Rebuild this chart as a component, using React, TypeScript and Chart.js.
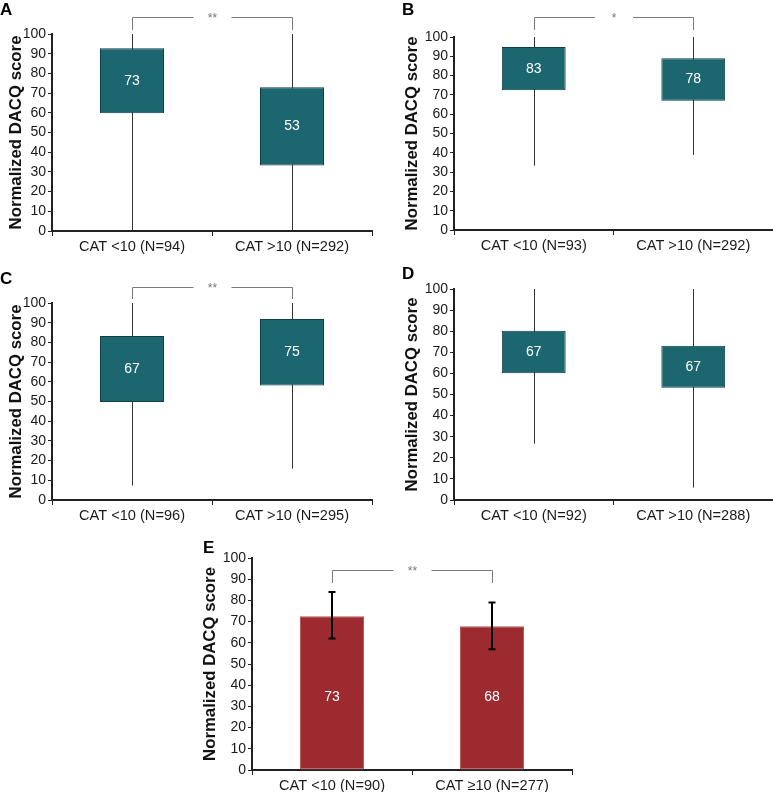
import React, { useEffect, useRef } from 'react';
import { Chart, registerables } from 'chart.js';

Chart.register(...registerables);

const FONT = "'Liberation Sans', Arial, Helvetica, sans-serif";

// ---------- Panel A ----------
const categoriesA = ['CAT <10 (N=94)', 'CAT >10 (N=292)'];
const minA = [0, 0];
const q1A = [59.8, 33.2];
const q3A = [92.8, 73.0];
const maxA = [100, 100];
const medianA = [73, 53];

// ---------- Panel B ----------
const categoriesB = ['CAT <10 (N=93)', 'CAT >10 (N=292)'];
const minB = [33.3, 38.9];
const q1B = [72.4, 67.0];
const q3B = [94.8, 89.0];
const maxB = [100, 100];
const medianB = [83, 78];

// ---------- Panel C ----------
const categoriesC = ['CAT <10 (N=96)', 'CAT >10 (N=295)'];
const minC = [7.3, 15.9];
const q1C = [49.7, 58.1];
const q3C = [83.2, 91.9];
const maxC = [100, 100];
const medianC = [67, 75];

// ---------- Panel D ----------
const categoriesD = ['CAT <10 (N=92)', 'CAT >10 (N=288)'];
const minD = [26.7, 5.9];
const q1D = [60.1, 53.2];
const q3D = [80.2, 73.1];
const maxD = [100, 100];
const medianD = [67, 67];

// ---------- Panel E ----------
const categoriesE = ['CAT <10 (N=90)', 'CAT \u226510 (N=277)'];
const meanE = [72.5, 67.8];
const errLowE = [62, 57];
const errHighE = [84, 79];
const labelE = [73, 68];

const Y_TITLE = 'Normalized DACQ score';
const TEAL = '#1c6670';
const TEAL_BORDER = '#0f3e45';
const RED = '#9c2a2f';
const RED_BORDER = '#b9575b';

type Area = { left: number; right: number; top: number; bottom: number };
type Bracket = { label: string; level: number; drop: number } | null;

type Panel = {
  left: number;
  top: number;
  width: number;
  height: number;
  area: Area;
  titlePad: number;
  bracket: Bracket;
  kind: 'box' | 'bar';
  categories: string[];
  min?: number[];
  q1?: number[];
  q3?: number[];
  max?: number[];
  median?: number[];
  mean?: number[];
  errLow?: number[];
  errHigh?: number[];
  barLabels?: number[];
  barLabelLevel?: number;
};

const panels: Panel[] = [
  {
    left: 0, top: 0, width: 386, height: 260,
    area: { left: 52, right: 372, top: 34, bottom: 231 },
    titlePad: 6.5, bracket: { label: '**', level: 108.6, drop: 102 },
    kind: 'box', categories: categoriesA, min: minA, q1: q1A, q3: q3A, max: maxA, median: medianA,
  },
  {
    left: 386, top: 0, width: 387, height: 260,
    area: { left: 68, right: 387, top: 37, bottom: 230 },
    titlePad: 16, bracket: { label: '*', level: 110.4, drop: 103.6 },
    kind: 'box', categories: categoriesB, min: minB, q1: q1B, q3: q3B, max: maxB, median: medianB,
  },
  {
    left: 0, top: 260, width: 386, height: 270,
    area: { left: 52, right: 372, top: 43, bottom: 240 },
    titlePad: 6.5, bracket: { label: '**', level: 108.1, drop: 102 },
    kind: 'box', categories: categoriesC, min: minC, q1: q1C, q3: q3C, max: maxC, median: medianC,
  },
  {
    left: 386, top: 260, width: 387, height: 270,
    area: { left: 68, right: 387, top: 29, bottom: 240 },
    titlePad: 16, bracket: null,
    kind: 'box', categories: categoriesD, min: minD, q1: q1D, q3: q3D, max: maxD, median: medianD,
  },
  {
    left: 190, top: 530, width: 400, height: 262,
    area: { left: 62, right: 382, top: 28, bottom: 240 },
    titlePad: 10, bracket: { label: '**', level: 94.3, drop: 88.2 },
    kind: 'bar', categories: categoriesE, mean: meanE, errLow: errLowE, errHigh: errHighE,
    barLabels: labelE, barLabelLevel: 34.4,
  },
];

const letters = [
  { text: 'A', left: 0, top: 1 },
  { text: 'B', left: 402, top: 1 },
  { text: 'C', left: 0, top: 270 },
  { text: 'D', left: 402, top: 265 },
  { text: 'E', left: 203, top: 539 },
];

function buildConfig(p: Panel): any {
  const datasets: any[] = [];
  if (p.kind === 'box') {
    datasets.push({
      label: 'IQR',
      data: p.q1!.map((v, i) => [v, p.q3![i]]),
      backgroundColor: TEAL,
      borderColor: TEAL_BORDER,
      borderWidth: 1,
      borderSkipped: false,
      barPercentage: 0.4,
      categoryPercentage: 1,
      grouped: false,
      order: 0,
    });
  } else {
    datasets.push({
      label: 'Mean',
      data: p.mean!,
      backgroundColor: RED,
      borderColor: RED_BORDER,
      borderWidth: 1,
      borderSkipped: false,
      barPercentage: 0.4,
      categoryPercentage: 1,
      order: 0,
    });
  }

  const whiskers = {
    id: 'whiskers',
    beforeDatasetsDraw(chart: any) {
      if (p.kind !== 'box') return;
      const ctx = chart.ctx;
      const xs = chart.scales.x;
      const ys = chart.scales.y;
      ctx.save();
      ctx.strokeStyle = '#333333';
      ctx.lineWidth = 1;
      p.min!.forEach((mn, i) => {
        const x = Math.round(xs.getPixelForValue(i)) + 0.5;
        ctx.beginPath();
        ctx.moveTo(x, ys.getPixelForValue(mn));
        ctx.lineTo(x, ys.getPixelForValue(p.max![i]));
        ctx.stroke();
      });
      ctx.restore();
    },
  };

  const annotate = {
    id: 'annotate',
    afterDatasetsDraw(chart: any) {
      const ctx = chart.ctx;
      const xs = chart.scales.x;
      const ys = chart.scales.y;
      ctx.save();
      if (p.kind === 'box') {
        ctx.fillStyle = '#ffffff';
        ctx.font = `14px ${FONT}`;
        ctx.textAlign = 'center';
        ctx.textBaseline = 'middle';
        p.median!.forEach((m, i) => {
          const x = xs.getPixelForValue(i);
          const y = ys.getPixelForValue((p.q1![i] + p.q3![i]) / 2);
          ctx.fillText(String(m), x, y);
        });
      } else {
        ctx.strokeStyle = '#000000';
        ctx.lineWidth = 2;
        p.mean!.forEach((_, i) => {
          const x = Math.round(xs.getPixelForValue(i));
          const yl = ys.getPixelForValue(p.errLow![i]);
          const yh = ys.getPixelForValue(p.errHigh![i]);
          ctx.beginPath();
          ctx.moveTo(x, yl);
          ctx.lineTo(x, yh);
          ctx.moveTo(x - 3.5, yl);
          ctx.lineTo(x + 3.5, yl);
          ctx.moveTo(x - 3.5, yh);
          ctx.lineTo(x + 3.5, yh);
          ctx.stroke();
        });
        ctx.fillStyle = '#ffffff';
        ctx.font = `14px ${FONT}`;
        ctx.textAlign = 'center';
        ctx.textBaseline = 'middle';
        p.barLabels!.forEach((l, i) => {
          ctx.fillText(String(l), xs.getPixelForValue(i), ys.getPixelForValue(p.barLabelLevel!));
        });
      }
      if (p.bracket) {
        const b = p.bracket;
        const x0 = Math.round(xs.getPixelForValue(0)) + 0.5;
        const x1 = Math.round(xs.getPixelForValue(1)) + 0.5;
        const yb = Math.round(ys.getPixelForValue(b.level)) + 0.5;
        const yd = ys.getPixelForValue(b.drop);
        const xm = (x0 + x1) / 2;
        const gap = 19;
        ctx.strokeStyle = '#7a7a7a';
        ctx.lineWidth = 1;
        ctx.beginPath();
        ctx.moveTo(x0, yd);
        ctx.lineTo(x0, yb);
        ctx.lineTo(xm - gap, yb);
        ctx.moveTo(xm + gap, yb);
        ctx.lineTo(x1, yb);
        ctx.lineTo(x1, yd);
        ctx.stroke();
        ctx.fillStyle = '#777777';
        ctx.font = `12px ${FONT}`;
        ctx.textAlign = 'center';
        ctx.textBaseline = 'middle';
        ctx.fillText(b.label, xm, yb + 1);
      }
      ctx.restore();
    },
  };

  return {
    type: 'bar',
    data: { labels: p.categories, datasets },
    plugins: [whiskers, annotate],
    options: {
      animation: false,
      responsive: false,
      devicePixelRatio: 1,
      layout: {
        padding: { left: 0, top: p.area.top, right: p.width - p.area.right, bottom: 0 },
      },
      plugins: {
        legend: { display: false },
        tooltip: { enabled: false },
        title: { display: false },
      },
      scales: {
        x: {
          type: 'category',
          offset: true,
          grid: { offset: true, drawOnChartArea: false, drawTicks: true, tickLength: 5, color: '#222222', lineWidth: 1 },
          border: { display: true, color: '#222222', width: 2 },
          ticks: { font: { family: FONT, size: 14.6 }, color: '#1a1a1a', padding: 2, maxRotation: 0, autoSkip: false },
          afterFit: (s: any) => { s.height = p.height - p.area.bottom; },
        },
        y: {
          min: 0,
          max: 100,
          ticks: { stepSize: 10, autoSkip: false, font: { family: FONT, size: 14 }, color: '#1a1a1a', padding: 2 },
          grid: { drawOnChartArea: false, drawTicks: true, tickLength: 4, color: '#222222', lineWidth: 1 },
          border: { display: true, color: '#222222', width: 2 },
          title: {
            display: true,
            text: Y_TITLE,
            color: '#111111',
            font: { family: FONT, size: 16.8, weight: 'bold' },
            padding: { top: p.titlePad, bottom: 0 },
          },
          afterFit: (s: any) => { s.width = p.area.left; },
        },
      },
    },
  };
}

function ChartPanel({ panel }: { panel: Panel }) {
  const ref = useRef<HTMLCanvasElement | null>(null);
  useEffect(() => {
    if (!ref.current) return;
    const chart = new Chart(ref.current, buildConfig(panel));
    return () => chart.destroy();
  }, [panel]);
  return (
    <canvas
      ref={ref}
      width={panel.width}
      height={panel.height}
      style={{ position: 'absolute', left: panel.left, top: panel.top, width: panel.width, height: panel.height }}
    />
  );
}

export default function App() {
  return (
    <div style={{ position: 'absolute', left: 0, top: 0, width: 773, height: 792, background: '#ffffff', overflow: 'hidden' }}>
      {panels.map((p, i) => (
        <ChartPanel key={i} panel={p} />
      ))}
      {letters.map((l) => (
        <div
          key={l.text}
          style={{
            position: 'absolute', left: l.left, top: l.top, fontFamily: FONT, fontWeight: 'bold',
            fontSize: 17, lineHeight: '17px', color: '#000',
          }}
        >
          {l.text}
        </div>
      ))}
    </div>
  );
}
